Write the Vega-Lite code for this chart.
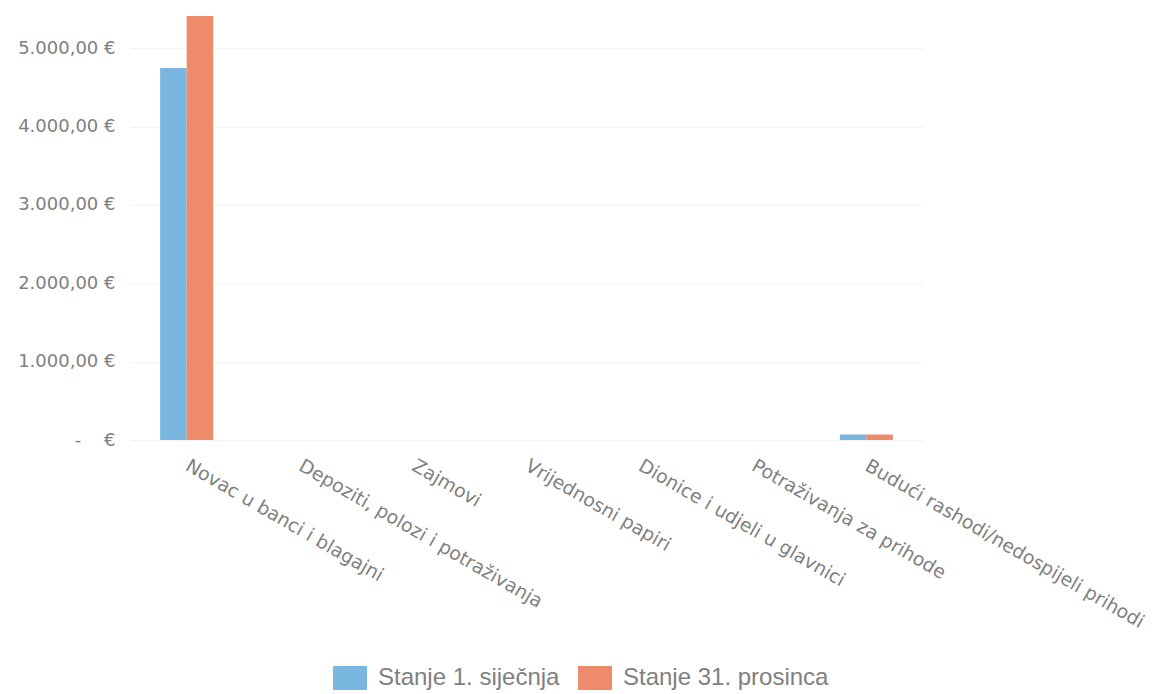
{
  "$schema": "https://vega.github.io/schema/vega-lite/v6.json",
  "width": 793,
  "height": 431,
  "autosize": {"type": "none"},
  "padding": {"left": 130, "top": 9, "right": 236, "bottom": 254},
  "background": "white",
  "config": {
    "view": {"stroke": null},
    "locale": {"number": {"decimal": ",", "thousands": ".", "grouping": [3], "currency": ["", " €"]}}
  },
  "data": {
    "values": [
      {"kategorija": "Novac u banci i blagajni", "stanje": "Stanje 1. siječnja", "iznos": 4747},
      {"kategorija": "Novac u banci i blagajni", "stanje": "Stanje 31. prosinca", "iznos": 5411},
      {"kategorija": "Depoziti, polozi i potraživanja", "stanje": "Stanje 1. siječnja", "iznos": 0},
      {"kategorija": "Depoziti, polozi i potraživanja", "stanje": "Stanje 31. prosinca", "iznos": 0},
      {"kategorija": "Zajmovi", "stanje": "Stanje 1. siječnja", "iznos": 0},
      {"kategorija": "Zajmovi", "stanje": "Stanje 31. prosinca", "iznos": 0},
      {"kategorija": "Vrijednosni papiri", "stanje": "Stanje 1. siječnja", "iznos": 0},
      {"kategorija": "Vrijednosni papiri", "stanje": "Stanje 31. prosinca", "iznos": 0},
      {"kategorija": "Dionice i udjeli u glavnici", "stanje": "Stanje 1. siječnja", "iznos": 0},
      {"kategorija": "Dionice i udjeli u glavnici", "stanje": "Stanje 31. prosinca", "iznos": 0},
      {"kategorija": "Potraživanja za prihode", "stanje": "Stanje 1. siječnja", "iznos": 0},
      {"kategorija": "Potraživanja za prihode", "stanje": "Stanje 31. prosinca", "iznos": 0},
      {"kategorija": "Budući rashodi/nedospijeli prihodi", "stanje": "Stanje 1. siječnja", "iznos": 70},
      {"kategorija": "Budući rashodi/nedospijeli prihodi", "stanje": "Stanje 31. prosinca", "iznos": 70}
    ]
  },
  "mark": {"type": "bar"},
  "encoding": {
    "x": {
      "field": "kategorija",
      "type": "nominal",
      "sort": null,
      "title": null,
      "scale": {"paddingInner": 0.532, "paddingOuter": 0.266},
      "axis": {
        "labelAngle": 30,
        "labelAlign": "left",
        "labelBaseline": "top",
        "labelPadding": 16,
        "labelOffset": 5,
        "labelFont": "DejaVu Sans",
        "labelFontSize": 18.8,
        "labelColor": "#808080",
        "labelLimit": 500,
        "domain": false,
        "ticks": false,
        "grid": false
      }
    },
    "xOffset": {"field": "stanje", "type": "nominal"},
    "y": {
      "field": "iznos",
      "type": "quantitative",
      "title": null,
      "scale": {"domain": [0, 5500], "nice": false},
      "axis": {
        "values": [0, 1000, 2000, 3000, 4000, 5000],
        "format": "$,.2f",
        "labelExpr": "datum.value == 0 ? '-\u00a0\u00a0\u00a0\u00a0€' : datum.label",
        "labelFont": "DejaVu Sans",
        "labelFontSize": 18,
        "labelColor": "#808080",
        "labelPadding": 15,
        "domain": false,
        "ticks": false,
        "grid": true,
        "gridColor": "#f3f3f3"
      }
    },
    "color": {
      "field": "stanje",
      "type": "nominal",
      "title": null,
      "scale": {"range": ["#79b6e0", "#ee8b6b"]},
      "legend": {
        "orient": "none",
        "direction": "horizontal",
        "legendX": 203,
        "legendY": 652,
        "padding": 0,
        "symbolType": "M-1,-0.7H1V0.7H-1Z",
        "symbolSize": 1156,
        "symbolStrokeWidth": 0,
        "labelFont": "Liberation Sans",
        "labelFontSize": 24,
        "labelColor": "#808080",
        "labelOffset": 11,
        "columnPadding": 18,
        "labelLimit": 400
      }
    }
  }
}
